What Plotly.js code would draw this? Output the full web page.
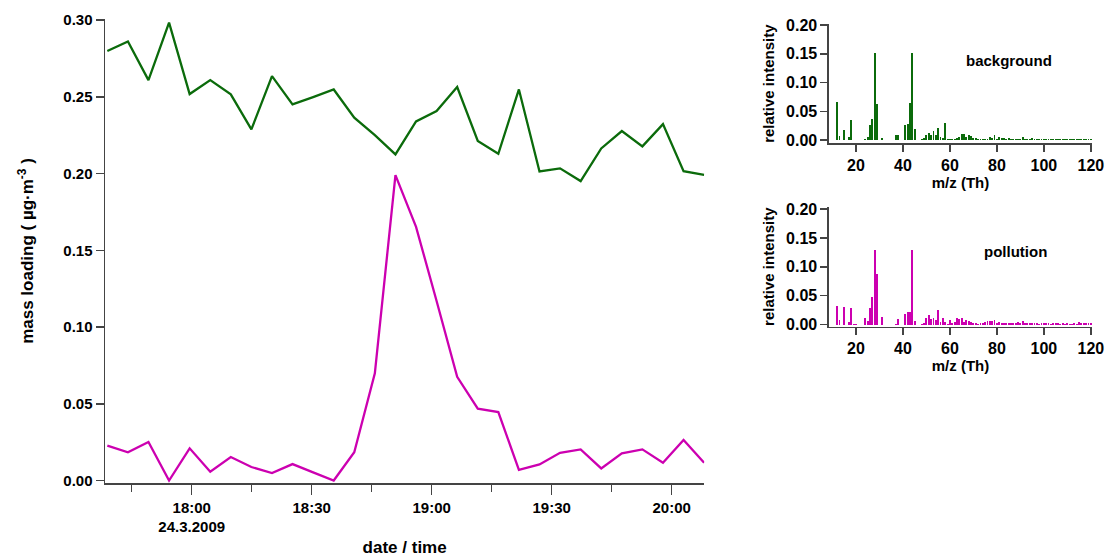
<!DOCTYPE html>
<html>
<head>
<meta charset="utf-8">
<script src="https://cdn.plot.ly/plotly-3.0.1.min.js"></script>
<style>html,body{margin:0;padding:0;background:#fff;}#chart{width:1105px;height:557px;}</style>
</head>
<body>
<div id="chart"></div>
<script>
// ---- time series (mass loading, µg·m-3) ----
const times = [
  "2009-03-24 17:38:54","2009-03-24 17:44:03","2009-03-24 17:49:11","2009-03-24 17:54:20",
  "2009-03-24 17:59:29","2009-03-24 18:04:38","2009-03-24 18:09:46","2009-03-24 18:14:55",
  "2009-03-24 18:20:04","2009-03-24 18:25:12","2009-03-24 18:30:21","2009-03-24 18:35:30",
  "2009-03-24 18:40:38","2009-03-24 18:45:47","2009-03-24 18:50:56","2009-03-24 18:56:05",
  "2009-03-24 19:01:13","2009-03-24 19:06:22","2009-03-24 19:11:31","2009-03-24 19:16:39",
  "2009-03-24 19:21:48","2009-03-24 19:26:57","2009-03-24 19:32:05","2009-03-24 19:37:14",
  "2009-03-24 19:42:23","2009-03-24 19:47:32","2009-03-24 19:52:40","2009-03-24 19:57:49",
  "2009-03-24 20:02:58","2009-03-24 20:08:06"
];
const backgroundLoading = [
  0.2798,0.2861,0.2609,0.2983,0.2518,0.2609,0.2516,0.2288,0.2635,0.2451,
  0.2498,0.2548,0.2364,0.2251,0.2125,0.2340,0.2407,0.2564,0.2212,0.2129,
  0.2548,0.2014,0.2034,0.1951,0.2164,0.2277,0.2177,0.2322,0.2016,0.1992
];
const pollutionLoading = [
  0.0227,0.0184,0.0251,0.0000,0.0210,0.0057,0.0153,0.0088,0.0049,0.0107,
  0.0053,0.0000,0.0184,0.0698,0.1990,0.1653,0.1170,0.0676,0.0468,0.0446,
  0.0070,0.0105,0.0181,0.0203,0.0079,0.0177,0.0203,0.0116,0.0264,0.0116
];
const timeTickVals = ["2009-03-24 18:00","2009-03-24 18:30","2009-03-24 19:00","2009-03-24 19:30","2009-03-24 20:00"];
const timeTickText = ["18:00<br>24.3.2009","18:30","19:00","19:30","20:00"];
const timeMinorVals = ["2009-03-24 17:45","2009-03-24 18:15","2009-03-24 18:45","2009-03-24 19:15","2009-03-24 19:45"];
const timeRange = ["2009-03-24 17:38:19","2009-03-24 20:08:09"];

// ---- mass spectra (relative intensity) ----
const mz = [
  12,13,14,15,16,17,18,19,20,21,22,23,24,25,26,27,28,29,30,31,32,33,34,35,36,37,38,39,40,
  41,42,43,44,45,46,47,48,49,50,51,52,53,54,55,56,57,58,59,60,61,62,63,64,65,66,67,68,69,70,
  71,72,73,74,75,76,77,78,79,80,81,82,83,84,85,86,87,88,89,90,91,92,93,94,95,96,97,98,99,100,
  101,102,103,104,105,106,107,108,109,110,111,112,113,114,115,116,117,118,119,120
];
const backgroundSpectrum = [
  0.066,0.007,0,0.017,0,0.005,0.034,0,0,0,0,0,0.001,0.006,0.027,0.036,0.151,0.062,0,0.004,0,0,0,0,0,0.008,0.008,0,0,
  0.026,0.028,0.065,0.151,0.019,0,0,0.001,0.004,0.009,0.012,0.009,0.015,0.008,0.021,0.006,0.004,0.029,0.002,0.001,0.001,0.002,0.004,0.005,0.010,0.010,0.006,0.009,0.007,0.004,
  0.003,0.001,0.001,0.001,0.001,0.002,0.006,0.003,0.008,0.002,0.005,0.003,0.003,0.002,0.003,0.001,0.001,0.001,0.001,0.001,0.005,0.002,0.002,0.001,0.004,0.002,0.001,0.001,0.001,0.001,
  0.001,0.001,0.001,0.001,0.002,0.001,0.001,0.001,0.001,0.001,0.001,0.001,0.001,0.001,0.002,0.001,0.001,0.001,0.001,0.001
];
const pollutionSpectrum = [
  0.032,0.008,0,0.030,0,0.004,0.028,0.001,0.001,0,0,0,0.011,0.007,0.029,0.048,0.129,0.088,0,0.014,0,0,0,0,0,0.001,0.010,0,0,
  0.019,0.022,0.022,0.129,0.006,0,0,0.001,0.003,0.012,0.016,0.010,0.012,0.008,0.025,0.004,0.011,0.004,0.001,0.008,0.002,0.004,0.011,0.009,0.012,0.004,0.008,0.006,0.005,0.003,
  0.003,0.001,0.002,0.002,0.005,0.006,0.007,0.007,0.008,0.002,0.004,0.002,0.003,0.003,0.003,0.002,0.003,0.003,0.004,0.002,0.006,0.002,0.003,0.002,0.003,0.002,0.002,0.001,0.002,0.002,
  0.002,0.002,0.001,0.002,0.002,0.002,0.001,0.002,0.001,0.002,0.001,0.001,0.002,0.001,0.005,0.002,0.002,0.002,0.002,0.002
];

const GREEN = "#0b6b0b";
const MAGENTA = "#cc00b0";
const AXIS = "#444444";
const FONT = "Liberation Sans, Arial, sans-serif";
const boldFont = (s) => ({family: FONT, size: s, color: "#000", weight: "bold"});

const traces = [
  {x: times, y: backgroundLoading, type: "scatter", mode: "lines", line: {color: GREEN, width: 2.3}, xaxis: "x", yaxis: "y", hoverinfo: "skip"},
  {x: times, y: pollutionLoading, type: "scatter", mode: "lines", line: {color: MAGENTA, width: 2.3}, xaxis: "x", yaxis: "y", hoverinfo: "skip"},
  {x: mz, y: backgroundSpectrum, type: "bar", width: 0.8, marker: {color: GREEN, line: {width: 0}}, xaxis: "x2", yaxis: "y2", hoverinfo: "skip"},
  {x: mz, y: pollutionSpectrum, type: "bar", width: 0.8, marker: {color: MAGENTA, line: {width: 0}}, xaxis: "x3", yaxis: "y3", hoverinfo: "skip"}
];

const specX = (anchor, domain) => ({
  domain: [0.7335, 1.0], anchor: anchor, range: [8.5, 120.5],
  tickvals: [20,40,60,80,100,120], ticks: "outside", ticklen: 7, tickwidth: 1.5, tickcolor: AXIS,
  showline: true, linecolor: AXIS, linewidth: 1.5, showgrid: false, zeroline: false,
  tickfont: boldFont(16), title: {text: "m/z (Th)", font: boldFont(15), standoff: 2}
});
const specY = (anchor, domain, range) => ({
  domain: domain, anchor: anchor, range: range,
  tickvals: [0, 0.05, 0.10, 0.15, 0.20], tickformat: ".2f", ticks: "outside", ticklen: 7, tickwidth: 1.5, tickcolor: AXIS,
  showline: true, linecolor: AXIS, linewidth: 1.5, showgrid: false, zeroline: false,
  tickfont: boldFont(16), title: {text: "relative intensity", font: boldFont(15), standoff: 8}
});

const layout = {
  width: 1105, height: 557,
  margin: {l: 105, r: 13, t: 19, b: 74},
  paper_bgcolor: "#fff", plot_bgcolor: "#fff",
  showlegend: false,
  bargap: 0,
  xaxis: {
    domain: [0, 0.6072], anchor: "y", type: "date", range: timeRange,
    tickmode: "array", tickvals: timeTickVals, ticktext: timeTickText,
    ticks: "outside", ticklen: 10, tickwidth: 1.5, tickcolor: AXIS,
    minor: {tickmode: "array", tickvals: timeMinorVals, ticks: "outside", ticklen: 7, tickwidth: 1.5, tickcolor: AXIS, showgrid: false},
    showline: true, linecolor: AXIS, linewidth: 1.5, showgrid: false, zeroline: false,
    tickfont: boldFont(15), title: {text: "date / time", font: boldFont(17), standoff: 10}
  },
  yaxis: {
    domain: [0, 1], anchor: "x", range: [-0.0016, 0.3007],
    tickvals: [0, 0.05, 0.10, 0.15, 0.20, 0.25, 0.30], tickformat: ".2f",
    ticks: "outside", ticklen: 8, tickwidth: 1.5, tickcolor: AXIS,
    showline: true, linecolor: AXIS, linewidth: 1.5, showgrid: false, zeroline: false,
    tickfont: boldFont(15), title: {text: "mass loading ( µg·m<sup>-3</sup> )", font: boldFont(17), standoff: 25}
  },
  xaxis2: specX("y2"),
  yaxis2: specY("x2", [0.7321, 0.9892], [-0.0057, 0.2017]),
  xaxis3: specX("y3"),
  yaxis3: specY("x3", [0.3369, 0.5955], [-0.0035, 0.204]),
  annotations: [
    {text: "background", xref: "x2", yref: "y2", x: 85.2, y: 0.139, showarrow: false, font: boldFont(15), xanchor: "center", yanchor: "middle"},
    {text: "pollution", xref: "x3", yref: "y3", x: 88.1, y: 0.1257, showarrow: false, font: boldFont(15), xanchor: "center", yanchor: "middle"}
  ]
};

Plotly.newPlot("chart", traces, layout, {displayModeBar: false, staticPlot: true});
</script>
</body>
</html>
